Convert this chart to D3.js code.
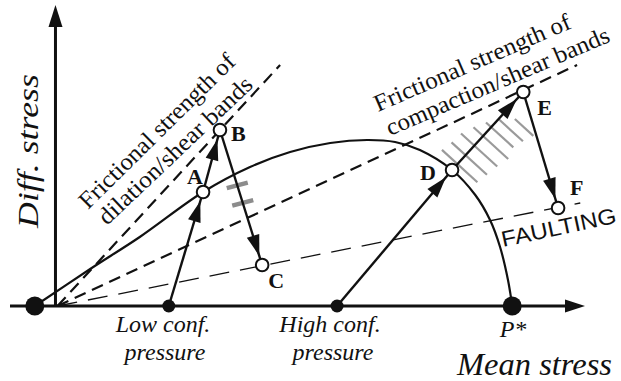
<!DOCTYPE html>
<html>
<head>
<meta charset="utf-8">
<script src="https://cdn.jsdelivr.net/npm/d3@7/dist/d3.min.js"></script>
<style>
body { margin: 0; background: #ffffff; }
</style>
</head>
<body>
<div id="canvas"></div>
<script>
"use strict"

/* yield cap, mean stress vs diff. stress (arbitrary units) */
let capX = [-4.3, 6.2, 15.6, 27.6, 36.5, 44.1, 51.7, 58.7, 64.0, 68.7, 74.8, 79.2, 82.0, 83.9, 85.4, 86.2];
let capY = [0, 7.4, 13.8, 22.8, 27.8, 30.8, 32.6, 33.2, 32.8, 31.2, 27.2, 22.2, 17.2, 11.8, 5.2, 0];

/* frictional envelopes from the origin: dilation, compaction, faulting */
let envelopeEndX = [42.2, 98.5, 99.1];
let envelopeEndY = [48.2, 48.2, 20.6];

/* loading paths: start on the axis, then the lettered states */
let lowPathX = [21.1, 27.6, 30.8, 38.8];
let lowPathY = [0, 22.8, 35.2, 8.2];
let highPathX = [53.0, 74.8, 88.3, 94.9];
let highPathY = [0, 27.2, 42.8, 19.6];
let lowPathNames = ["", "A", "B", "C"];
let highPathNames = ["", "D", "E", "F"];

/* big dots on the mean stress axis: tensile strength and P* */
let endDotX = [-4.3, 86.2];

let width = 621;
let height = 381;

let drawing = d3.select("#canvas")
    .append("svg")
    .attr("width", width)
    .attr("height", height);

let x = d3.scaleLinear().domain([-9, 100]).range([10, 585]);
let y = d3.scaleLinear().domain([0, 60]).range([306, 6]);

let serif = "'Liberation Serif', 'Times New Roman', serif";
let sans = "'Liberation Sans', Arial, sans-serif";

function arrowHead(x1, y1, x2, y2, gap, len, half) {
    let dx = x2 - x1, dy = y2 - y1;
    let d = Math.sqrt(dx * dx + dy * dy);
    let ux = dx / d, uy = dy / d;
    let tx = x2 - ux * gap, ty = y2 - uy * gap;
    let bx = tx - ux * len, by = ty - uy * len;
    return [[tx, ty], [bx - uy * half, by + ux * half], [bx + uy * half, by - ux * half]];
}

/* envelopes (dashed) */
envelopeEndX.forEach(function (ex, i) {
    drawing.append("line")
        .attr("x1", x(0))
        .attr("y1", y(0))
        .attr("x2", x(ex))
        .attr("y2", y(envelopeEndY[i]))
        .attr("stroke", "#111")
        .attr("stroke-width", i == 2 ? 1.3 : 2.2)
        .attr("stroke-dasharray", i == 2 ? "20,11" : "12,7");
});

/* axes */
drawing.append("line")
    .attr("x1", 10).attr("y1", y(0))
    .attr("x2", x.range()[1] - 15).attr("y2", y(0))
    .attr("stroke", "#111").attr("stroke-width", 3);
drawing.append("polygon")
    .attr("points", arrowHead(10, y(0), x.range()[1], y(0), 0, 20, 6.5).join(" "))
    .attr("fill", "#111");

drawing.append("line")
    .attr("x1", x(0) - 2).attr("y1", y(0))
    .attr("x2", x(0) - 2).attr("y2", y.range()[1] + 15)
    .attr("stroke", "#111").attr("stroke-width", 3);
drawing.append("polygon")
    .attr("points", arrowHead(x(0) - 2, y(0), x(0) - 2, y.range()[1] - 1, 0, 22, 7).join(" "))
    .attr("fill", "#111");

/* yield cap */
let capLine = d3.line()
    .x(function (d, i) { return x(d); })
    .y(function (d, i) { return y(capY[i]); })
    .curve(d3.curveCatmullRom.alpha(0.5));

drawing.append("path")
    .attr("d", capLine(capX))
    .attr("fill", "none")
    .attr("stroke", "#111")
    .attr("stroke-width", 2.2);

/* shear band hatches along B-C */
[0.41, 0.54].forEach(function (t) {
    let cx = x(lowPathX[2] + (lowPathX[3] - lowPathX[2]) * t);
    let cy = y(lowPathY[2] + (lowPathY[3] - lowPathY[2]) * t);
    drawing.append("line")
        .attr("x1", cx - 10.5).attr("y1", cy + 2.8)
        .attr("x2", cx + 10.5).attr("y2", cy - 2.8)
        .attr("stroke", "#8c8c8c")
        .attr("stroke-width", 4.5);
});

/* compaction band hatches along D-E */
let dPx = [x(highPathX[1]), y(highPathY[1])];
let ePx = [x(highPathX[2]), y(highPathY[2])];
let deLen = Math.hypot(ePx[0] - dPx[0], ePx[1] - dPx[1]);
let ux = (ePx[0] - dPx[0]) / deLen, uy = (ePx[1] - dPx[1]) / deLen;
let nx = -uy, ny = ux;
let hatchAt = [8, 20, 33, 46, 58, 69, 80];
let hatchFrom = [-21, -19, -18, -13, -7, 0, 12];
let hatchTo = [27, 29, 31, 34, 30, 33, 37];
hatchAt.forEach(function (u, i) {
    let px = dPx[0] + ux * u, py = dPx[1] + uy * u;
    drawing.append("line")
        .attr("x1", px + nx * hatchFrom[i]).attr("y1", py + ny * hatchFrom[i])
        .attr("x2", px + nx * hatchTo[i]).attr("y2", py + ny * hatchTo[i])
        .attr("stroke", "#9a9a9a")
        .attr("stroke-width", 2.2);
});

/* loading paths with arrows */
function drawPath(px, py, names) {
    for (let i = 0; i < px.length - 1; i++) {
        let x1 = x(px[i]), y1 = y(py[i]), x2 = x(px[i + 1]), y2 = y(py[i + 1]);
        drawing.append("line")
            .attr("x1", x1).attr("y1", y1)
            .attr("x2", x2).attr("y2", y2)
            .attr("stroke", "#111")
            .attr("stroke-width", 2.4);
        drawing.append("polygon")
            .attr("points", arrowHead(x1, y1, x2, y2, 9.5, 21, 6.5).join(" "))
            .attr("fill", "#111");
    }
    /* start dot */
    drawing.append("circle")
        .attr("cx", x(px[0])).attr("cy", y(py[0]))
        .attr("r", 6.5)
        .attr("fill", "#111");
    /* states */
    for (let i = 1; i < px.length; i++) {
        drawing.append("circle")
            .attr("cx", x(px[i])).attr("cy", y(py[i]))
            .attr("r", 6.3)
            .attr("fill", "#fff")
            .attr("stroke", "#111")
            .attr("stroke-width", 2);
    }
}
drawPath(lowPathX, lowPathY, lowPathNames);
drawPath(highPathX, highPathY, highPathNames);

endDotX.forEach(function (v) {
    drawing.append("circle")
        .attr("cx", x(v)).attr("cy", y(0))
        .attr("r", 9.5)
        .attr("fill", "#111");
});

/* state letters, offset from their circles */
let letterX = lowPathX.slice(1).concat(highPathX.slice(1));
let letterY = lowPathY.slice(1).concat(highPathY.slice(1));
let letterNames = lowPathNames.slice(1).concat(highPathNames.slice(1));
let letterDx = [-16, 11, 6, -32, 14, 12];
let letterDy = [-8, 11, 23, 10, 23, -13];
letterNames.forEach(function (name, i) {
    drawing.append("text")
        .attr("x", x(letterX[i]) + letterDx[i])
        .attr("y", y(letterY[i]) + letterDy[i])
        .attr("font-family", serif)
        .attr("font-weight", "bold")
        .attr("font-size", 22)
        .attr("fill", "#111")
        .text(name);
});

/* axis labels */
function italic(txt, px, py, size, anchor) {
    return drawing.append("text")
        .attr("x", px).attr("y", py)
        .attr("font-family", serif)
        .attr("font-style", "italic")
        .attr("font-size", size)
        .attr("text-anchor", anchor)
        .attr("fill", "#111")
        .text(txt);
}
italic("Low conf.", 163, 332, 24, "middle");
italic("pressure", 165, 360, 24, "middle");
italic("High conf.", 330, 332, 24, "middle");
italic("pressure", 333, 360, 24, "middle");
italic("P*", 513, 337, 24, "middle");
italic("Mean stress", 457, 375, 32, "start")
    .attr("textLength", 155).attr("lengthAdjust", "spacingAndGlyphs");
italic("Diff. stress", 0, 0, 29, "middle")
    .attr("transform", "translate(38,151) rotate(-90)")
    .attr("textLength", 154).attr("lengthAdjust", "spacingAndGlyphs");

/* envelope notes */
function note(txt, px, py, angle, len, family, size) {
    drawing.append("text")
        .attr("transform", "translate(" + px + "," + py + ") rotate(" + angle + ")")
        .attr("font-family", family)
        .attr("font-size", size)
        .attr("fill", "#111")
        .attr("textLength", len)
        .attr("lengthAdjust", "spacingAndGlyphs")
        .text(txt);
}
note("Frictional strength of", 88, 210, -44.6, 209, serif, 24);
note("dilation/shear bands", 107, 226, -43.5, 203, serif, 24);
note("Frictional strength of", 378, 112, -23.4, 212, serif, 24);
note("compaction/shear bands", 390, 136, -23.2, 241, serif, 24);
note("FAULTING", 503, 247, -12, 117, sans, 22);
</script>
</body>
</html>
